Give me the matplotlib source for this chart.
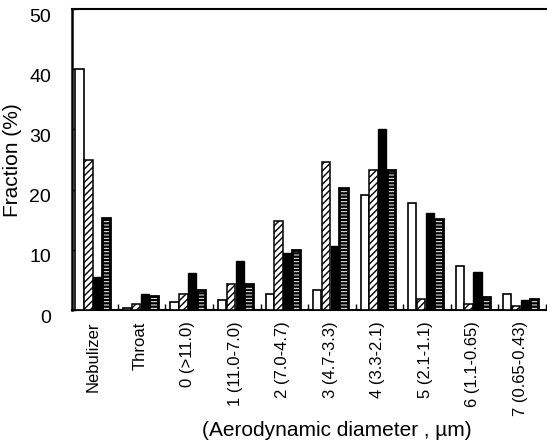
import numpy as np
import matplotlib
matplotlib.use("Agg")
import matplotlib.pyplot as plt
import matplotlib.transforms as mtransforms

plt.rcParams['font.family'] = ['Liberation Sans', 'DejaVu Sans']
plt.rcParams['hatch.linewidth'] = 1.0

# --- datos (fracción en %) ---
etapas = ["Nebulizer", "Throat", "0 (>11.0)", "1 (11.0-7.0)", "2 (7.0-4.7)",
          "3 (4.7-3.3)", "4 (3.3-2.1)", "5 (2.1-1.1)", "6 (1.1-0.65)", "7 (0.65-0.43)"]
blanco = [40.0, 0.4, 1.4, 1.7, 2.7, 3.4, 19.1, 17.8, 7.3, 2.6]
rayado = [25.0, 0.95, 2.6, 4.3, 14.8, 24.6, 23.2, 1.8, 1.0, 0.6]
negro = [5.5, 2.6, 6.2, 8.2, 9.5, 10.7, 30.0, 16.2, 6.3, 1.7]
franjas = [15.3, 2.3, 3.4, 4.3, 9.9, 20.2, 23.3, 15.1, 2.1, 1.9]

x = np.arange(len(etapas))
w = 0.175
d = 0.185

fig = plt.figure(figsize=(5.47, 4.41), dpi=100)
ax = fig.add_axes([0.1316, 0.297, 0.866, 0.6824])

ax.bar(x - 1.5 * d, blanco, w, facecolor='white', edgecolor='black', linewidth=1.2, zorder=3)
ax.bar(x - 0.5 * d, rayado, w, facecolor='white', edgecolor='black', hatch='/////', linewidth=1.1, zorder=3)
ax.bar(x + 0.5 * d, negro, w, facecolor='black', edgecolor='black', linewidth=1.0, zorder=3)
# barras negras con franjas blancas horizontales (hatch más fino)
with plt.rc_context({'hatch.linewidth': 0.7}):
    ax.bar(x + 1.5 * d, franjas, w, facecolor='black', edgecolor='white', hatch='-----', linewidth=0, zorder=3)
ax.bar(x + 1.5 * d, franjas, w, facecolor='none', edgecolor='black', linewidth=2.0, zorder=4)

ax.set_xlim(-0.4375, 9.458)
ax.set_ylim(0, 50)

ax.spines['right'].set_visible(False)
ax.spines['left'].set_linewidth(1.8)
ax.spines['bottom'].set_linewidth(1.5)
ax.spines['top'].set_linewidth(1.5)

ax.set_yticks([0, 10, 20, 30, 40, 50])
ax.tick_params(axis='y', direction='in', length=3, width=1, labelsize=14, pad=15)
offset = mtransforms.ScaledTranslation(0, -6 / 100, fig.dpi_scale_trans)
for lab in ax.get_yticklabels():
    lab.set_transform(lab.get_transform() + offset)

ax.set_xticks(x)
ax.set_xticklabels(etapas, rotation=90, fontsize=12)
ax.tick_params(axis='x', which='major', length=0, pad=8)
ax.set_xticks(x + 0.53, minor=True)
ax.tick_params(axis='x', which='minor', direction='in', length=4, width=1)

fig.text(0.022, 0.636, "Fraction (%)", fontsize=15, rotation=90, ha='center', va='center')
fig.text(0.615, 0.003, "(Aerodynamic diameter , µm)", fontsize=15, ha='center', va='bottom')

fig.savefig("out.png", dpi=100)
